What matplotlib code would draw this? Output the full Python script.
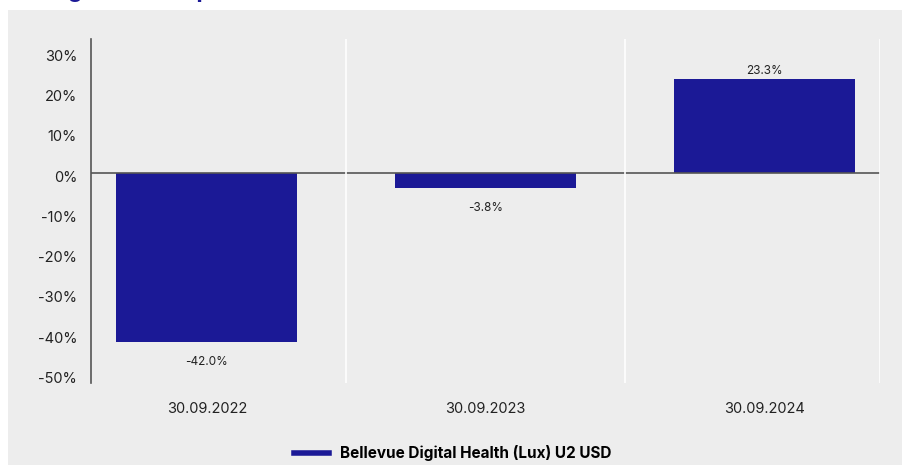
import matplotlib
matplotlib.use("Agg")
import matplotlib.pyplot as plt
import matplotlib.patches as mpatches
import matplotlib.transforms as mtransforms
from matplotlib.lines import Line2D

dates = ["30.09.2022", "30.09.2023", "30.09.2024"]
returns = [-42.0, -3.8, 23.3]
yticks = [30, 20, 10, 0, -10, -20, -30, -40, -50]
series_name = "Bellevue Digital Health (Lux) U2 USD"
title = "Rolling 12-month performance"

navy = "#1b1996"
panel = "#ededed"

plt.rcParams["font.family"] = ["Inter", "DejaVu Sans"]

W, H = 903, 465
fig = plt.figure(figsize=(W / 100, H / 100), dpi=100)
fig.patch.set_facecolor("white")

# grey panel behind everything
fig.patches.append(mpatches.Rectangle((8 / W, 0), 1, (H - 10) / H,
                                      transform=fig.transFigure,
                                      facecolor=panel, edgecolor="none", zorder=-5))

# title is cut off by the top edge, only the descenders show
fig.text(8 / W, (H + 2) / H, title, color=navy, fontsize=16, fontweight="bold",
         ha="left", va="baseline")

ax = fig.add_axes([91 / W, (H - 383) / H, (880 - 91) / W, (383 - 39) / H])
ax.set_zorder(2)
ax.set_facecolor(panel)
ax.set_xlim(-0.416, 2.416)
ax.set_ylim(-52.1, 33.3)

x = list(range(len(dates)))
bars = ax.bar(x, returns, width=0.65, color=navy, zorder=2)

ax.axhline(0, color="#555555", lw=1.2, zorder=3)
for gx in [0.5, 1.5, 2.416]:
    ax.axvline(gx, color="white", lw=1.2, zorder=4)

for xi, v in zip(x, returns):
    if v >= 0:
        ax.annotate(f"{v:.1f}%", (xi, v), xytext=(0, 1.5), textcoords="offset points",
                    ha="center", va="bottom", fontsize=8.5, color="#222222")
    else:
        ax.annotate(f"{v:.1f}%", (xi, v), xytext=(0, -9.5), textcoords="offset points",
                    ha="center", va="top", fontsize=8.5, color="#222222")

ax.set_xticks(x)
ax.set_xticklabels(dates, fontsize=10.5, color="#222222")
ax.set_yticks(yticks)
ax.set_yticklabels([f"{t}%" for t in yticks], fontsize=10.5, color="#222222")
ax.tick_params(axis="both", length=0)
ax.tick_params(axis="x", pad=14)
ax.tick_params(axis="y", pad=10)

# y labels sit a little below their ticks in the original
shift = mtransforms.ScaledTranslation(0, -3 / 100, fig.dpi_scale_trans)
for lab in ax.get_yticklabels():
    lab.set_transform(lab.get_transform() + shift)

for s in ["top", "right", "bottom"]:
    ax.spines[s].set_visible(False)
ax.spines["left"].set_color("#555555")
ax.spines["left"].set_linewidth(1.2)

handle = Line2D([0], [0], color=navy, lw=4)
fig.legend([handle], [series_name], loc="center", bbox_to_anchor=(453 / W, (H - 453) / H),
           frameon=False, handlelength=2.3, handletextpad=0.7,
           prop={"size": 11, "weight": "bold"})

fig.savefig("out.png", dpi=100, facecolor=fig.get_facecolor())
